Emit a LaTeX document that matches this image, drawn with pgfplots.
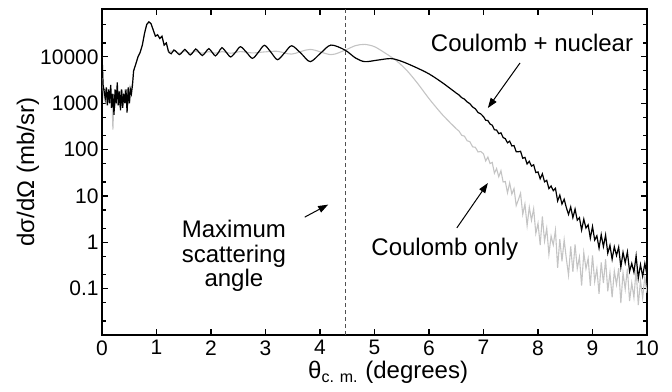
\documentclass[border=0pt]{standalone}
\usepackage{pgfplots}
\pgfplotsset{compat=1.18}
\usepackage{fontspec}
\setmainfont{Liberation Sans}
\usetikzlibrary{arrows.meta}
\definecolor{lgray}{RGB}{196,196,196}
\definecolor{dgray}{RGB}{80,80,80}
\begin{document}
\begin{tikzpicture}
\useasboundingbox (-51pt,-28pt) rectangle (285pt,167.5pt);
\begin{axis}[
  scale only axis, width=272.5pt, height=163pt,
  xmin=0, xmax=10, ymode=log, ymin=0.01, ymax=1.08e5,
  xtick={0,1,2,3,4,5,6,7,8,9,10},
  xticklabels={0,1,2,3,4,5,6,7,8,9,10},
  ytick={0.1,1,10,100,1000,10000},
  yticklabels={0.1,1,10,100,1000,10000},
  minor ytick={0.02,0.05,0.2,0.5,2,5,20,50,200,500,2000,5000,20000,50000},
  tick align=inside, major tick length=3pt, minor tick length=2pt,
  axis line style={line width=0.75pt},
  every tick/.style={black, line width=0.6pt},
  tick label style={font=\fontsize{10.5}{12}\selectfont},
  xticklabel style={inner sep=2pt, yshift=-0.5pt},
  yticklabel style={inner sep=1.5pt},
  xlabel={θ\textsubscript{c. m.} (degrees)},
  ylabel={dσ/dΩ (mb/sr)},
  label style={font=\fontsize{12}{14}\selectfont},
  xlabel style={at={(axis description cs:0.525,-0.115)}, anchor=center, inner sep=0pt},
  ylabel style={at={(axis description cs:-0.136,0.5)}, anchor=center},
]
% Coulomb only (gray)
\addplot[lgray, line width=0.55pt] coordinates {
(0,1e4)(0.02,2000)(0.04,1260)(0.06,2000)(0.08,900)(0.10,1800)(0.12,1100)(0.14,2000)(0.16,800)(0.18,1600)(0.20,270)(0.22,1260)(0.24,800)(0.26,1600)(0.28,900)(0.30,1800)(0.32,1000)(0.34,1600)(0.36,900)(0.38,1800)(0.40,1100)(0.42,2000)(0.44,1000)(0.46,1600)(0.48,1100)(0.50,2000)(0.52,1260)(0.54,2200)(0.56,2800)(0.58,5000)(0.62,7000)(0.66,1e4)(0.70,1.25e4)(0.74,1.8e4)(0.78,3.2e4)(0.82,5e4)(0.86,5.7e4)(0.90,5.2e4)(0.94,3.8e4)(0.98,2.8e4)(1.02,3e4)(1.06,2.5e4)(1.10,2.8e4)(1.14,1.8e4)(1.18,2e4)(1.22,1.3e4)
};
\addplot[lgray, line width=0.55pt, smooth] coordinates {
(1.22,1.3e4)(1.32,1.35e4)(1.42,1.2e4)(1.52,1.33e4)(1.62,1.2e4)(1.72,1.32e4)(1.84,1.2e4)(1.96,1.3e4)(2.08,1.2e4)(2.20,1.3e4)(2.36,1.2e4)(2.54,1.3e4)(2.76,1.22e4)(2.98,1.28e4)(3.22,1.32e4)(3.48,1.15e4)(3.82,1.45e4)(4.20,1.12e4)(4.46,1.4e4)(4.65,1.75e4)(4.82,1.86e4)(5.0,1.66e4)(5.2,1.2e4)(5.4,8.3e3)(5.6,5.0e3)(5.8,2.6e3)(6.0,1.26e3)(6.25,560)(6.5,282)
};
\addplot[lgray, line width=0.55pt] coordinates {
(6.50,282)(6.55,251)(6.60,204)(6.65,195)(6.70,155)(6.75,148)(6.80,115)(6.85,112)(6.90,89)(6.95,91)
(7.00,81)(7.04,57)(7.08,69)(7.12,50)(7.16,53)(7.20,31)(7.24,39)(7.28,26)(7.32,35)(7.36,20)(7.40,20.5)(7.44,11.7)(7.48,19.1)(7.52,11.0)(7.56,14.4)(7.60,6.2)(7.64,8.3)(7.68,11.5)(7.72,4.0)(7.76,6.7)(7.80,2.28)(7.84,5.7)(7.88,2.97)(7.92,5.3)(7.96,1.55)(8.00,2.57)(8.04,0.87)(8.08,3.6)(8.12,1.06)(8.16,2.0)(8.20,0.55)(8.24,1.36)(8.28,0.88)(8.32,1.82)(8.36,0.28)(8.40,1.17)(8.44,0.39)(8.48,1.13)(8.52,0.44)(8.56,0.196)(8.60,0.82)(8.64,0.23)(8.68,0.90)(8.72,0.27)(8.76,0.48)(8.80,0.116)(8.84,0.60)(8.88,0.27)(8.92,0.45)(8.96,0.115)(9.00,0.52)(9.04,0.142)(9.08,0.27)(9.12,0.077)(9.16,0.37)(9.20,0.132)(9.24,0.43)(9.28,0.088)(9.32,0.22)(9.36,0.065)(9.40,0.24)(9.44,0.123)(9.48,0.275)(9.52,0.049)(9.56,0.22)(9.60,0.097)(9.64,0.27)(9.68,0.054)(9.72,0.133)(9.76,0.064)(9.80,0.26)(9.84,0.044)(9.88,0.15)(9.92,0.063)(9.96,0.18)(10.00,0.081)
};
% Coulomb + nuclear (black)
\addplot[black, line width=0.6pt] coordinates {
(0,1.2e4)(0.02,2500)(0.04,1800)(0.06,1260)(0.08,2200)(0.10,900)(0.12,2000)(0.14,1000)(0.16,2500)(0.18,800)(0.20,1600)(0.22,560)(0.24,2000)(0.26,1000)(0.28,2800)(0.30,900)(0.32,1800)(0.34,700)(0.36,2000)(0.38,800)(0.40,1600)(0.42,1000)(0.44,2000)(0.46,630)(0.48,2200)(0.50,1000)(0.52,2000)(0.54,1600)(0.56,2500)(0.58,5000)(0.62,7000)(0.66,1e4)(0.70,1.25e4)(0.74,1.8e4)(0.78,3.2e4)(0.82,5e4)(0.86,5.7e4)(0.90,5.2e4)(0.94,3.8e4)(0.98,2.8e4)(1.02,3e4)(1.06,2.5e4)(1.10,2.8e4)(1.14,1.8e4)(1.18,2e4)(1.22,1.3e4)
};
\addplot[black, line width=0.6pt, smooth] coordinates {
(1.22,1.3e4)(1.27,1.17e4)(1.32,1.41e4)(1.37,1.26e4)(1.42,1.12e4)(1.47,1.26e4)(1.52,1.45e4)(1.57,1.26e4)(1.62,1.1e4)(1.67,1.26e4)(1.72,1.48e4)(1.78,1.26e4)(1.84,1.07e4)(1.90,1.26e4)(1.96,1.51e4)(2.02,1.26e4)(2.08,1.05e4)(2.14,1.26e4)(2.20,1.58e4)(2.28,1.26e4)(2.36,1.0e4)(2.45,1.26e4)(2.54,1.66e4)(2.65,1.26e4)(2.76,9.3e3)(2.87,1.26e4)(2.98,1.78e4)(3.10,1.26e4)(3.22,8.7e3)(3.35,1.22e4)(3.48,1.74e4)(3.65,1.2e4)(3.82,7.9e3)(4.01,1.2e4)(4.20,1.8e4)(4.46,1.4e4)(4.65,9.5e3)(4.82,7.9e3)(5.05,8.5e3)(5.30,9.2e3)(5.5,8.0e3)(5.75,6.0e3)(6.0,4.3e3)(6.25,2.75e3)(6.5,1.66e3)
};
\addplot[black, line width=0.6pt] coordinates {
(6.50,1660)(6.55,1510)(6.60,1320)(6.65,1230)(6.70,1070)(6.75,977)(6.80,832)(6.85,759)(6.90,631)(6.95,589)
(7.00,513)(7.04,431)(7.08,423)(7.12,356)(7.16,336)(7.20,268)(7.24,264)(7.28,221)(7.32,230)(7.36,182)(7.40,172)(7.44,140)(7.48,152)(7.52,120)(7.56,122)(7.60,90)(7.64,90)(7.68,92)(7.72,65)(7.76,68)(7.80,49)(7.84,56)(7.88,44)(7.92,47)(7.96,32)(8.00,33)(8.04,23.5)(8.08,30)(8.12,20.2)(8.16,21.7)(8.20,14.4)(8.24,16.4)(8.28,13.0)(8.32,14.6)(8.36,7.8)(8.40,10.4)(8.44,6.7)(8.48,8.5)(8.52,5.6)(8.56,4.0)(8.60,5.8)(8.64,3.4)(8.68,5.2)(8.72,3.0)(8.76,3.4)(8.80,1.84)(8.84,3.16)(8.88,2.03)(8.92,2.38)(8.96,1.23)(9.00,2.19)(9.04,1.12)(9.08,1.38)(9.12,0.75)(9.16,1.46)(9.20,0.81)(9.24,1.43)(9.28,0.58)(9.32,0.86)(9.36,0.43)(9.40,0.80)(9.44,0.52)(9.48,0.79)(9.52,0.29)(9.56,0.61)(9.60,0.36)(9.64,0.62)(9.68,0.235)(9.72,0.35)(9.76,0.226)(9.80,0.51)(9.84,0.168)(9.88,0.33)(9.92,0.185)(9.96,0.35)(10.00,0.195)
};
% maximum scattering angle
\addplot[dgray, line width=0.5pt, dash pattern=on 2pt off 1.5pt] coordinates {(4.47,0.01)(4.47,1.08e5)};
\node[font=\fontsize{12}{14}\selectfont] at (axis cs:7.89,2e4) {Coulomb + nuclear};
\draw[-{Triangle[length=5pt,width=3.5pt]}, line width=0.5pt] (axis cs:7.67,7.4e3) -- (axis cs:7.08,790);
\node[font=\fontsize{12}{14}\selectfont] at (axis cs:6.29,0.72) {Coulomb only};
\draw[-{Triangle[length=5pt,width=3.5pt]}, line width=0.5pt] (axis cs:6.51,2.04) -- (axis cs:7.08,19);
\node[align=center, font=\fontsize{12}{12.25}\selectfont] at (axis cs:2.42,0.51) {Maximum\\scattering\\angle};
\draw[-{Triangle[length=5pt,width=3.5pt]}, line width=0.5pt] (axis cs:3.72,3.5) -- (axis cs:4.15,6.5);
\end{axis}
\end{tikzpicture}
\end{document}
